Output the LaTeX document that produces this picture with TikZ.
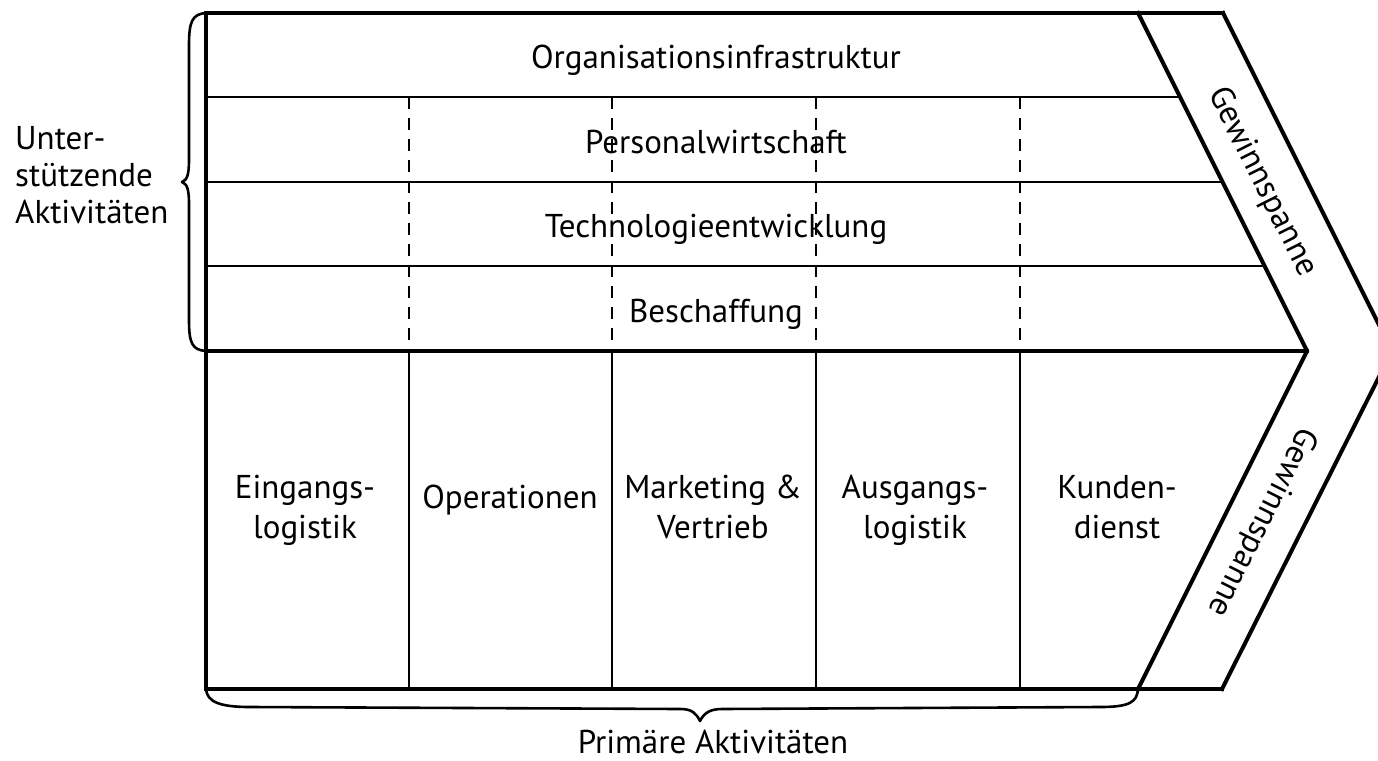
\documentclass[tikz,border=0pt]{standalone}
\usepackage{fontspec}
\setmainfont{PT Sans}
\begin{document}
\begin{tikzpicture}[x=1pt,y=-1pt,
  heavy/.style={line width=4pt,line join=miter,line cap=rect},
  light/.style={line width=1.8pt},
  dashline/.style={line width=1.8pt,dash pattern=on 12pt off 9pt},
  bracestyle/.style={line width=2.6pt,line join=round},
  lbl/.style={inner sep=0pt,font=\fontsize{33}{40}\selectfont,align=center,anchor=base},
  side/.style={inner sep=0pt,font=\fontsize{33}{37}\selectfont,align=left,anchor=base west},
  gw/.style={inner sep=0pt,font=\fontsize{33}{40}\selectfont,anchor=center}]
\useasboundingbox (0,0) rectangle (1378,760);
\clip (0,0) rectangle (1378,760);
% corner coordinates
\coordinate (TL) at (206,13);
\coordinate (ML) at (206,351);
\coordinate (BL) at (206,689);
\coordinate (TI) at (1138,13);
\coordinate (MI) at (1307,351);
\coordinate (BI) at (1138,689);
\coordinate (TO) at (1223,13);
\coordinate (MO) at (1392,351);
\coordinate (BO) at (1222,689);
% row lines
\coordinate (r1a) at (206,97);  \coordinate (r1b) at (1180,97);
\coordinate (r2a) at (206,182); \coordinate (r2b) at (1222,182);
\coordinate (r3a) at (206,266); \coordinate (r3b) at (1264,266);
\draw[light] (r1a) -- (r1b);
\draw[light] (r2a) -- (r2b);
\draw[light] (r3a) -- (r3b);
% column lines
\foreach \i/\x in {1/409,2/612,3/816,4/1020}{
  \coordinate (d\i a) at (\x,97);
  \coordinate (d\i b) at (\x,351);
  \coordinate (c\i b) at (\x,689);
  \draw[dashline] (d\i a) -- (d\i b);
  \draw[light] (d\i b) -- (c\i b);
}
% heavy frame
\draw[heavy] (TO) -- (TL) -- (BL) -- (BO);
\draw[heavy] (ML) -- (MI);
\draw[heavy] (TI) -- (MI) -- (BI);
\draw[heavy] (TO) -- (MO) -- (BO);
% texts
\node[lbl] (org) at (716,68) {Organisationsinfrastruktur};
\node[lbl] (pers) at (716,153) {Personalwirtschaft};
\node[lbl] (tech) at (716,237) {Technologieentwicklung};
\node[lbl] (besch) at (716,322) {Beschaffung};
\node[lbl] (ein) at (305,538) {Eingangs-\\logistik};
\node[lbl] (ops) at (510,508) {Operationen};
\node[lbl] (mkt) at (713,538) {Marketing \&\\Vertrieb};
\node[lbl] (aus) at (915,538) {Ausgangs-\\logistik};
\node[lbl] (kd) at (1117,538) {Kunden-\\dienst};
\node[gw,rotate=-63.43] (gw1) at (1262,182) {Gewinnspanne};
\node[gw,rotate=-116.57] (gw2) at (1262,522) {Gewinnspanne};
\node[side] (uak) at (15,223) {Unter-\\stützende\\Aktivitäten};
\node[lbl] (pak) at (713,753) {Primäre Aktivitäten};
% braces
\draw[bracestyle] (TL) .. controls (192,14) and (189,22) .. (189,45) -- (189,160)
  .. controls (189,175) and (187,180) .. (182,182)
  .. controls (187,184) and (189,189) .. (189,204) -- (189,320)
  .. controls (189,343) and (192,350) .. (ML);
\draw[bracestyle] (BL) .. controls (207,702) and (220,707) .. (250,707) -- (680,709)
  .. controls (692,709) and (696,713) .. (700,721)
  .. controls (704,713) and (710,709) .. (722,709) -- (1100,707)
  .. controls (1130,707) and (1137,702) .. (BI);
\end{tikzpicture}
\end{document}
